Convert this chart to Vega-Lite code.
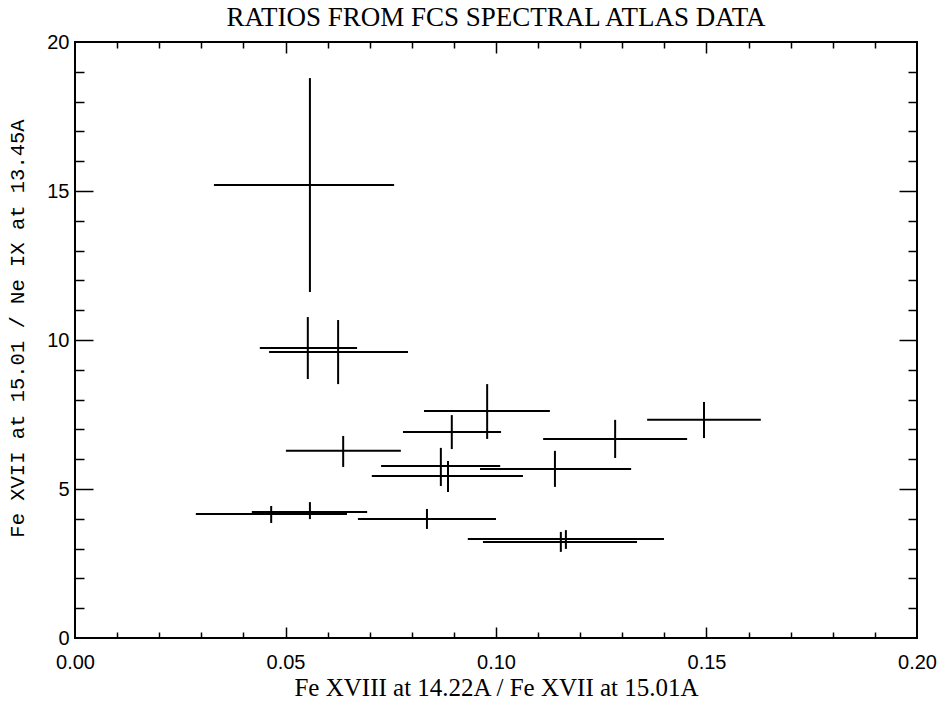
{
  "$schema": "https://vega.github.io/schema/vega-lite/v6.json",
  "width": 842,
  "height": 596,
  "autosize": "none",
  "padding": {"left": 75, "top": 42, "right": 20, "bottom": 68},
  "background": "white",
  "title": {
    "text": "RATIOS FROM FCS SPECTRAL ATLAS DATA",
    "font": "Liberation Serif",
    "fontSize": 27,
    "fontWeight": "normal",
    "color": "black",
    "offset": 0
  },
  "config": {
    "view": {"stroke": "black", "strokeWidth": 2},
    "axis": {"grid": false, "domain": false, "tickColor": "black", "tickWidth": 1.5, "labelColor": "black", "titleColor": "black"}
  },
  "data": {
    "values": [
      {"x": 0.0558, "xlo": 0.033, "xhi": 0.0758, "y": 15.2, "ylo": 11.61, "yhi": 18.79},
      {"x": 0.0553, "xlo": 0.0439, "xhi": 0.067, "y": 9.73, "ylo": 8.69, "yhi": 10.77},
      {"x": 0.0625, "xlo": 0.0461, "xhi": 0.0791, "y": 9.6, "ylo": 8.52, "yhi": 10.67},
      {"x": 0.0979, "xlo": 0.0829, "xhi": 0.1128, "y": 7.62, "ylo": 6.68, "yhi": 8.52},
      {"x": 0.0895, "xlo": 0.0779, "xhi": 0.1012, "y": 6.91, "ylo": 6.34, "yhi": 7.48},
      {"x": 0.0637, "xlo": 0.0501, "xhi": 0.0774, "y": 6.28, "ylo": 5.74, "yhi": 6.78},
      {"x": 0.0869, "xlo": 0.0727, "xhi": 0.101, "y": 5.77, "ylo": 5.1, "yhi": 6.38},
      {"x": 0.0886, "xlo": 0.0705, "xhi": 0.1064, "y": 5.44, "ylo": 4.9, "yhi": 5.94},
      {"x": 0.0466, "xlo": 0.0287, "xhi": 0.0646, "y": 4.16, "ylo": 3.86, "yhi": 4.43},
      {"x": 0.0558, "xlo": 0.042, "xhi": 0.0694, "y": 4.23, "ylo": 3.99, "yhi": 4.56},
      {"x": 0.0836, "xlo": 0.0672, "xhi": 0.1, "y": 3.99, "ylo": 3.66, "yhi": 4.33},
      {"x": 0.1166, "xlo": 0.0933, "xhi": 0.1399, "y": 3.32, "ylo": 2.99, "yhi": 3.62},
      {"x": 0.1154, "xlo": 0.0969, "xhi": 0.1335, "y": 3.22, "ylo": 2.89, "yhi": 3.56},
      {"x": 0.1283, "xlo": 0.1112, "xhi": 0.1454, "y": 6.68, "ylo": 6.04, "yhi": 7.32},
      {"x": 0.114, "xlo": 0.0962, "xhi": 0.1321, "y": 5.67, "ylo": 5.07, "yhi": 6.28},
      {"x": 0.1494, "xlo": 0.1359, "xhi": 0.1629, "y": 7.32, "ylo": 6.71, "yhi": 7.92}
    ]
  },
  "layer": [
    {
      "mark": {"type": "rule", "color": "black", "strokeWidth": 2},
      "encoding": {
        "x": {"field": "xlo", "type": "quantitative", "scale": {"domain": [0, 0.2], "nice": false, "zero": false},
          "axis": {"orient": "bottom", "values": [0, 0.05, 0.1, 0.15, 0.2], "ticks": false, "format": ".2f",
            "labelFont": "Liberation Sans", "labelFontSize": 20, "labelPadding": 14, "labelFlush": false,
            "title": "Fe XVIII at 14.22A / Fe XVII at 15.01A", "titleFont": "Liberation Serif", "titleFontSize": 25, "titleFontWeight": "normal", "titlePadding": 3}},
        "x2": {"field": "xhi"},
        "y": {"field": "y", "type": "quantitative", "scale": {"domain": [0, 20], "nice": false, "zero": false},
          "axis": {"orient": "left", "values": [0, 5, 10, 15, 20], "ticks": false,
            "labelFont": "Liberation Sans", "labelFontSize": 20, "labelPadding": 6, "labelFlush": false,
            "title": "Fe XVII at 15.01 / Ne IX at 13.45A", "titleFont": "Liberation Mono", "titleFontSize": 20.5, "titleFontWeight": "normal", "titlePadding": 19, "titleY": 286}}
      }
    },
    {
      "mark": {"type": "rule", "color": "black", "strokeWidth": 2},
      "encoding": {
        "x": {"field": "x", "type": "quantitative", "scale": {"domain": [0, 0.2], "nice": false, "zero": false},
          "axis": {"orient": "bottom", "values": [0.05, 0.1, 0.15], "labels": false, "title": null, "tickSize": -11}},
        "y": {"field": "ylo", "type": "quantitative", "scale": {"domain": [0, 20], "nice": false, "zero": false},
          "axis": {"orient": "left", "values": [5, 10, 15], "labels": false, "title": null, "tickSize": -18}},
        "y2": {"field": "yhi"}
      }
    },
    {
      "mark": {"type": "point", "opacity": 0},
      "encoding": {
        "x": {"field": "x", "type": "quantitative", "scale": {"domain": [0, 0.2], "nice": false, "zero": false},
          "axis": {"orient": "bottom", "values": [0.01, 0.02, 0.03, 0.04, 0.06, 0.07, 0.08, 0.09, 0.11, 0.12, 0.13, 0.14, 0.16, 0.17, 0.18, 0.19], "labels": false, "title": null, "tickSize": -6}},
        "y": {"field": "y", "type": "quantitative", "scale": {"domain": [0, 20], "nice": false, "zero": false},
          "axis": {"orient": "left", "values": [1, 2, 3, 4, 6, 7, 8, 9, 11, 12, 13, 14, 16, 17, 18, 19], "labels": false, "title": null, "tickSize": -9}}
      }
    },
    {
      "mark": {"type": "point", "opacity": 0},
      "encoding": {
        "x": {"field": "x", "type": "quantitative", "scale": {"domain": [0, 0.2], "nice": false, "zero": false},
          "axis": {"orient": "top", "values": [0.05, 0.1, 0.15], "labels": false, "title": null, "tickSize": -11}},
        "y": {"field": "y", "type": "quantitative", "scale": {"domain": [0, 20], "nice": false, "zero": false},
          "axis": {"orient": "right", "values": [5, 10, 15], "labels": false, "title": null, "tickSize": -18}}
      }
    },
    {
      "mark": {"type": "point", "opacity": 0},
      "encoding": {
        "x": {"field": "x", "type": "quantitative", "scale": {"domain": [0, 0.2], "nice": false, "zero": false},
          "axis": {"orient": "top", "values": [0.01, 0.02, 0.03, 0.04, 0.06, 0.07, 0.08, 0.09, 0.11, 0.12, 0.13, 0.14, 0.16, 0.17, 0.18, 0.19], "labels": false, "title": null, "tickSize": -6}},
        "y": {"field": "y", "type": "quantitative", "scale": {"domain": [0, 20], "nice": false, "zero": false},
          "axis": {"orient": "right", "values": [1, 2, 3, 4, 6, 7, 8, 9, 11, 12, 13, 14, 16, 17, 18, 19], "labels": false, "title": null, "tickSize": -9}}
      }
    }
  ],
  "resolve": {"axis": {"x": "independent", "y": "independent"}}
}
